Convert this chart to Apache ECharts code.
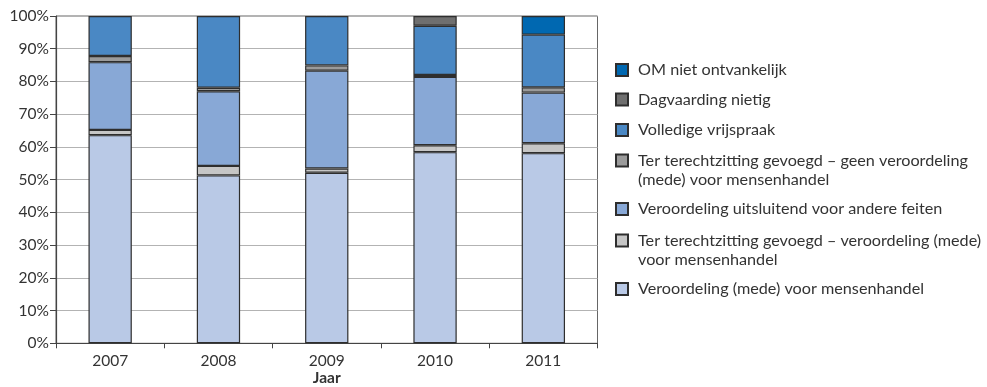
<!DOCTYPE html>
<html>
<head>
<meta charset="utf-8">
<script src="https://cdn.jsdelivr.net/npm/echarts@6/dist/echarts.min.js"></script>
<style>
  html, body { margin: 0; padding: 0; background: #fff; }
  #chart { width: 987px; height: 387px; }
</style>
</head>
<body>
<div id="chart"></div>
<script>
// Years on the x axis
var years = ['2007', '2008', '2009', '2010', '2011'];

// Share of cases per outcome (percent), stacked from the bottom up
var veroordelingMede      = [63.6, 51.3, 52.1, 58.4, 58.1];
var gevoegdVeroordeling   = [1.6, 2.9, 1.3, 2.1, 3.0];
var veroordelingAndere    = [20.7, 22.8, 29.9, 20.9, 15.5];
var gevoegdGeen           = [1.9, 1.1, 1.6, 0.6, 1.6];
var volledigeVrijspraak   = [12.2, 21.9, 15.1, 15.0, 16.1];
var dagvaardingNietig     = [0, 0, 0, 3.0, 0];
var omNietOntvankelijk    = [0, 0, 0, 0, 5.7];

// Y axis tick range
var yMin = 0, yMax = 100, yStep = 10;

var names = {
  mede: 'Veroordeling (mede) voor mensenhandel',
  gevV: 'Ter terechtzitting gevoegd – veroordeling (mede) voor mensenhandel',
  andere: 'Veroordeling uitsluitend voor andere feiten',
  gevG: 'Ter terechtzitting gevoegd – geen veroordeling (mede) voor mensenhandel',
  vrij: 'Volledige vrijspraak',
  dag: 'Dagvaarding nietig',
  om: 'OM niet ontvankelijk'
};

// Legend text, wrapped where the label is long
var legendText = {};
legendText[names.gevG] = '\nTer terechtzitting gevoegd – geen veroordeling\n(mede) voor mensenhandel';
legendText[names.gevV] = '\nTer terechtzitting gevoegd – veroordeling (mede)\nvoor mensenhandel';

var FONT = 'Lato';

function seriesOf(name, values, color) {
  return {
    name: name,
    type: 'bar',
    stack: 'total',
    barWidth: '40%',
    data: values.map(function (v) { return v === 0 ? null : v; }),
    itemStyle: { color: color, borderColor: '#2E2E2E', borderWidth: 1.2 }
  };
}

var series = [
  seriesOf(names.mede, veroordelingMede, '#B9C9E6'),
  seriesOf(names.gevV, gevoegdVeroordeling, '#C6C6C6'),
  seriesOf(names.andere, veroordelingAndere, '#88A8D6'),
  seriesOf(names.gevG, gevoegdGeen, '#9B9B9B'),
  seriesOf(names.vrij, volledigeVrijspraak, '#4A88C4'),
  seriesOf(names.dag, dagvaardingNietig, '#6F6F6F'),
  seriesOf(names.om, omNietOntvankelijk, '#0068B1')
];

// One legend block per entry so wrapped entries keep the box on their first line
var legendRows = [
  { name: names.om, center: 70, lines: 1 },
  { name: names.dag, center: 99.5, lines: 1 },
  { name: names.vrij, center: 130, lines: 1 },
  { name: names.gevG, center: 160.5, lines: 2 },
  { name: names.andere, center: 209, lines: 1 },
  { name: names.gevV, center: 240.5, lines: 2 },
  { name: names.mede, center: 289, lines: 1 }
];
var LH = 19.5;
var legends = legendRows.map(function (r) {
  return {
    data: [r.name],
    left: 615,
    top: r.lines === 1 ? r.center - LH / 2 : r.center - LH * 1.5,
    orient: 'vertical',
    icon: 'rect',
    itemWidth: 12,
    itemHeight: 12,
    padding: 0,
    selectedMode: false,
    formatter: function (n) { return legendText[n] || n; },
    textStyle: { fontFamily: FONT, fontSize: 16.2, color: '#333', lineHeight: LH, padding: [0, 0, 0, 5] }
  };
});

var chart = echarts.init(document.getElementById('chart'), null, { renderer: 'canvas' });
chart.setOption({
  animation: false,
  backgroundColor: '#fff',
  grid: {
    left: 56, right: 389.5, top: 16, bottom: 43.7,
    outerBoundsMode: 'none', containLabel: false,
    show: true, borderColor: '#666', borderWidth: 1, backgroundColor: 'transparent'
  },
  legend: legends,
  xAxis: {
    type: 'category',
    data: years,
    name: 'Jaar',
    nameLocation: 'middle',
    nameGap: 27,
    nameMoveOverlap: false,
    nameTextStyle: { fontFamily: FONT, fontSize: 15.5, fontWeight: 'bold', color: '#333', verticalAlign: 'top' },
    axisLine: { lineStyle: { color: '#444', width: 1.2 } },
    axisTick: { show: true, length: 5, lineStyle: { color: '#444' } },
    axisLabel: { fontFamily: FONT, fontSize: 15.5, color: '#333', margin: 10 }
  },
  yAxis: {
    type: 'value',
    min: yMin,
    max: yMax,
    interval: yStep,
    axisLine: { show: true, lineStyle: { color: '#444', width: 1.2 } },
    axisTick: { show: true, length: 6, lineStyle: { color: '#444' } },
    axisLabel: { fontFamily: FONT, fontSize: 15.5, color: '#333', margin: 7, formatter: '{value}%' },
    splitLine: { lineStyle: { color: '#B3B3B3', width: 1 } }
  },
  series: series
});
</script>
</body>
</html>
